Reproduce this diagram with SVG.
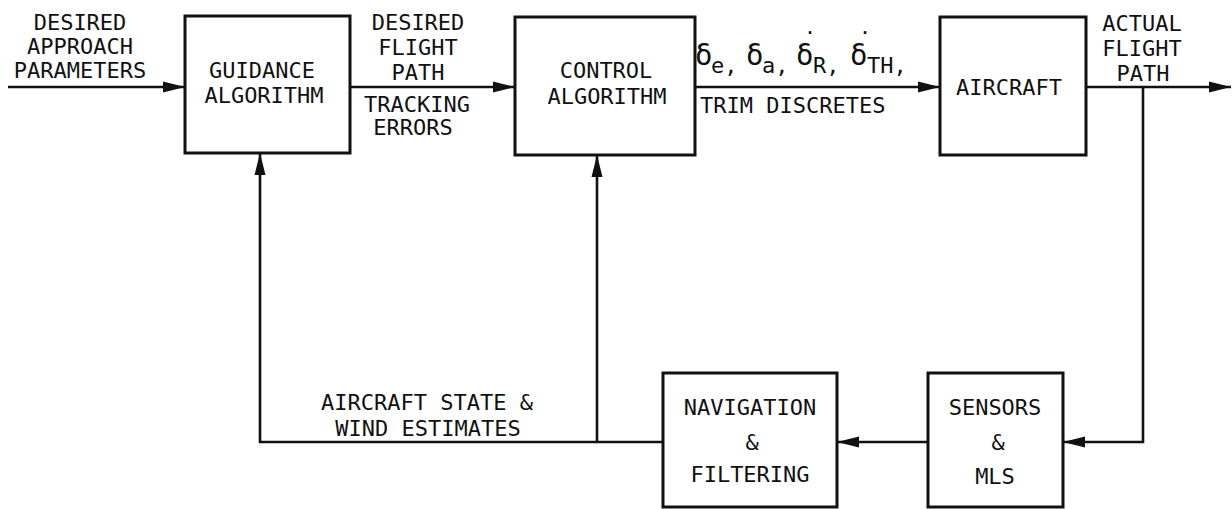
<svg xmlns="http://www.w3.org/2000/svg" width="1232" height="509" viewBox="0 0 1232 509">
<style>
  .box { fill: #fff; stroke: #111; stroke-width: 3; }
  .ln { fill: none; stroke: #111; stroke-width: 2.6; }
  text { font-family: "DejaVu Sans Mono", "Liberation Mono", monospace; font-size: 22px; fill: #111; }
  .c { text-anchor: middle; }
  .d { font-size: 29px; }
  .dot { font-size: 15px; font-weight: bold; text-anchor: middle; }
</style>
<defs>
  <marker id="ah" markerUnits="userSpaceOnUse" markerWidth="22" markerHeight="12" refX="22" refY="6" orient="auto">
    <path d="M0,0.5 L22,6 L0,11.5 z" fill="#111"/>
  </marker>
</defs>
<rect width="1232" height="509" fill="#fff"/>

<g id="connectors">
  <line class="ln" x1="8" y1="87" x2="185" y2="87" marker-end="url(#ah)"/>
  <line class="ln" x1="350" y1="87" x2="515" y2="87" marker-end="url(#ah)"/>
  <line class="ln" x1="695" y1="87" x2="940" y2="87" marker-end="url(#ah)"/>
  <line class="ln" x1="1086" y1="87" x2="1231" y2="87" marker-end="url(#ah)"/>
  <polyline class="ln" points="1143,87 1143,442 1063,442" marker-end="url(#ah)"/>
  <line class="ln" x1="928" y1="442" x2="837" y2="442" marker-end="url(#ah)"/>
  <polyline class="ln" points="663,442 260,442 260,153" marker-end="url(#ah)"/>
  <line class="ln" x1="597" y1="442" x2="597" y2="155" marker-end="url(#ah)"/>
</g>

<g id="labels">
  <text class="c" x="80" y="30">DESIRED</text>
  <text class="c" x="80" y="54">APPROACH</text>
  <text class="c" x="80" y="78">PARAMETERS</text>

  <text class="c" x="418" y="30">DESIRED</text>
  <text class="c" x="418" y="55">FLIGHT</text>
  <text class="c" x="418" y="80">PATH</text>
  <text class="c" x="417" y="112">TRACKING</text>
  <text class="c" x="413" y="135">ERRORS</text>

  <text class="d" x="695" y="65">δ</text>
  <text x="711" y="73">e,</text>
  <text class="d" x="746" y="65">δ</text>
  <text x="762" y="73">a,</text>
  <text class="d" x="796" y="65">δ</text>
  <text class="dot" x="810" y="34">.</text>
  <text x="813" y="73">R,</text>
  <text class="d" x="850" y="65">δ</text>
  <text class="dot" x="865" y="34">.</text>
  <text x="867" y="73">TH,</text>
  <text x="700" y="113">TRIM DISCRETES</text>

  <text class="c" x="1142" y="31">ACTUAL</text>
  <text class="c" x="1142" y="56">FLIGHT</text>
  <text class="c" x="1143" y="81">PATH</text>

  <text class="c" x="427" y="410">AIRCRAFT STATE &amp;</text>
  <text class="c" x="428" y="436">WIND ESTIMATES</text>
</g>

<g id="guidance">
  <rect class="box" x="185" y="16" width="165" height="137"/>
  <text class="c" x="262" y="78">GUIDANCE</text>
  <text class="c" x="264" y="103">ALGORITHM</text>
</g>

<g id="control">
  <rect class="box" x="515" y="17" width="180" height="138"/>
  <text class="c" x="606" y="78">CONTROL</text>
  <text class="c" x="607" y="104">ALGORITHM</text>
</g>

<g id="aircraft">
  <rect class="box" x="940" y="17" width="146" height="138"/>
  <text class="c" x="1009" y="95">AIRCRAFT</text>
</g>

<g id="navigation">
  <rect class="box" x="663" y="373" width="174" height="134"/>
  <text class="c" x="750" y="415">NAVIGATION</text>
  <text class="c" x="752" y="450">&amp;</text>
  <text class="c" x="750" y="482">FILTERING</text>
</g>

<g id="sensors">
  <rect class="box" x="928" y="373" width="135" height="134"/>
  <text class="c" x="995" y="415">SENSORS</text>
  <text class="c" x="998" y="450">&amp;</text>
  <text class="c" x="995" y="484">MLS</text>
</g>
</svg>
